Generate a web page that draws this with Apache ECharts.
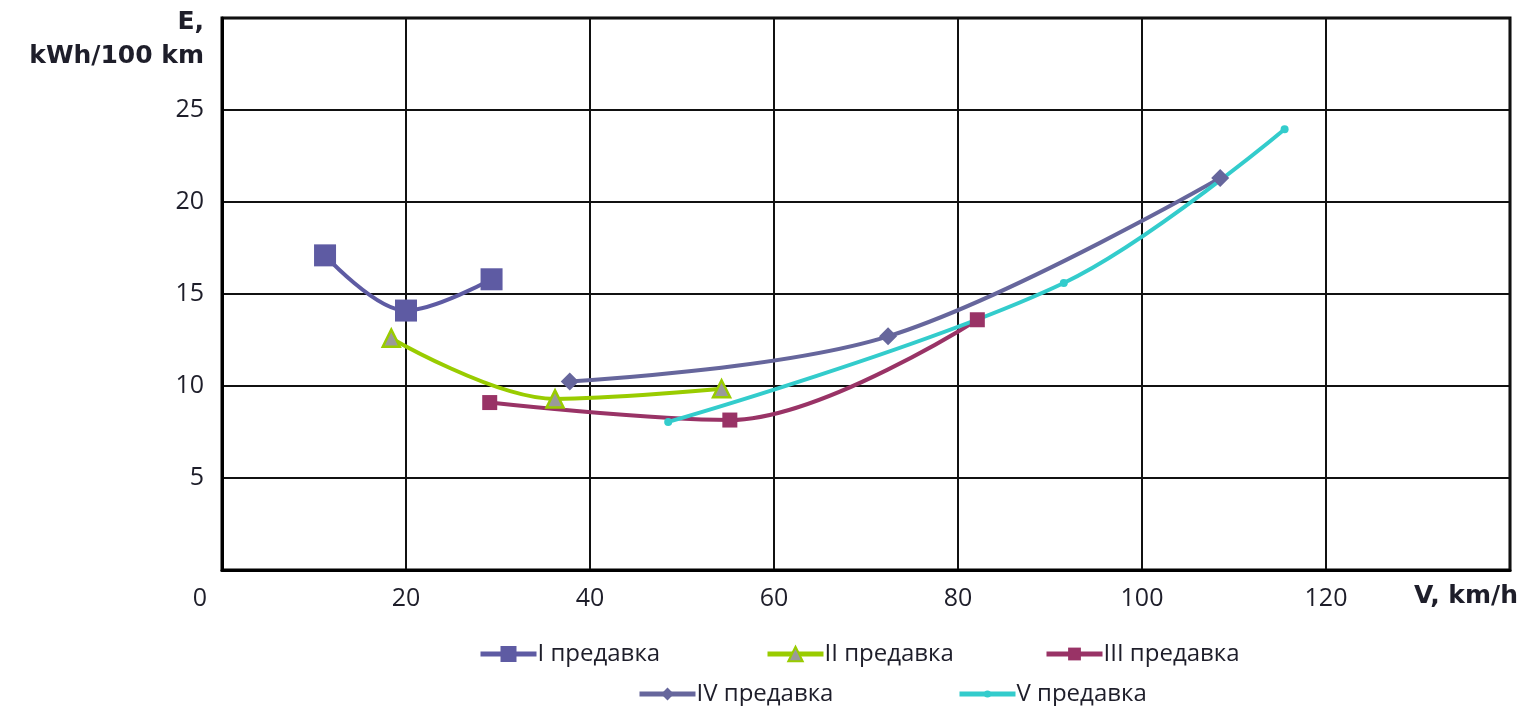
<!DOCTYPE html>
<html>
<head>
<meta charset="utf-8">
<title>Energy consumption by gear</title>
<script src="https://cdn.jsdelivr.net/npm/echarts@6/dist/echarts.min.js"></script>
<style>
  html, body { margin: 0; padding: 0; background: #fff; }
  #chart { width: 1539px; height: 706px; }
</style>
</head>
<body>
<div id="chart"></div>
<script>
// Speed V (km/h) vs. energy consumption E (kWh/100 km), one curve per gear
const gearNames = ['I предавка', 'II предавка', 'III предавка', 'IV предавка', 'V предавка'];
const gear1 = [[11.2, 17.1], [20.0, 14.1], [29.3, 15.8]];
const gear2 = [[18.4, 12.6], [36.2, 9.3], [54.3, 9.85]];
const gear3 = [[29.1, 9.1], [55.2, 8.15], [82.1, 13.6]];
const gear4 = [[37.8, 10.25], [72.4, 12.7], [108.5, 21.3]];
const gear5 = [[48.5, 8.05], [91.5, 15.6], [115.5, 23.95]];
const xTicks = [0, 20, 40, 60, 80, 100, 120];
const yTicks = [5, 10, 15, 20, 25];

const FONT = '"Open Sans", "DejaVu Sans", sans-serif';
const BOLD_FONT = '"DejaVu Sans", "Open Sans", sans-serif';
const TXT = '#1e1e2a';

const chart = echarts.init(document.getElementById('chart'), null, { renderer: 'canvas' });

function lineSeries(name, data, color, symbol, size, extra) {
  return Object.assign({
    name: name,
    type: 'line',
    data: data,
    smooth: 0.35,
    symbol: symbol,
    symbolSize: size,
    showAllSymbol: true,
    lineStyle: { color: color, width: 4 },
    itemStyle: { color: color },
    emphasis: { disabled: true },
    z: 3
  }, extra || {});
}

function legendAt(name, left, top, markerSize) {
  return {
    data: [name],
    left: left,
    top: top,
    itemWidth: 56,
    itemHeight: markerSize,
    itemGap: 6,
    selectedMode: false,
    lineStyle: { width: 5 },
    textStyle: { fontFamily: FONT, fontSize: 24, color: TXT, padding: [0, 0, 0, -4] }
  };
}

const option = {
  animation: false,
  backgroundColor: '#fff',
  grid: {
    left: 222, right: 29, top: 18, bottom: 136,
    show: true, borderColor: '#000', borderWidth: 3, backgroundColor: 'transparent'
  },
  xAxis: {
    type: 'value', min: 0, max: 140, interval: 20,
    axisLine: { show: true, lineStyle: { color: '#000', width: 3 } },
    axisTick: { show: false },
    splitLine: { show: true, lineStyle: { color: '#111', width: 2 } },
    axisLabel: {
      margin: 16,
      color: TXT, fontFamily: FONT, fontSize: 25,
      showMaxLabel: false,
      formatter: function (v) {
        if (!xTicks.includes(v)) return '';
        return v === 0 ? '{z|0}' : String(v);
      },
      rich: { z: { fontFamily: FONT, fontSize: 25, color: TXT, padding: [0, 44, 0, 0] } }
    }
  },
  yAxis: {
    type: 'value', min: 0, max: 30, interval: 5,
    axisLine: { show: true, lineStyle: { color: '#000', width: 3 } },
    axisTick: { show: false },
    splitLine: { show: true, lineStyle: { color: '#111', width: 2 } },
    axisLabel: {
      margin: 18,
      color: TXT, fontFamily: FONT, fontSize: 25,
      formatter: function (v) { return yTicks.includes(v) ? String(v) : ''; }
    }
  },
  legend: [
    legendAt(gearNames[0], 473, 637, 20),
    legendAt(gearNames[1], 760, 637, 18),
    legendAt(gearNames[2], 1039, 637, 16),
    legendAt(gearNames[3], 632, 677, 16),
    legendAt(gearNames[4], 952, 677, 9)
  ],
  graphic: [
    { type: 'text', right: 1539 - 204, top: 10,
      style: { text: 'E,', fontFamily: BOLD_FONT, fontSize: 25, fontWeight: 'bold', fill: TXT } },
    { type: 'text', right: 1539 - 204, top: 44,
      style: { text: 'kWh/100 km', fontFamily: BOLD_FONT, fontSize: 25, fontWeight: 'bold', fill: TXT } },
    { type: 'text', left: 1414, top: 584,
      style: { text: 'V, km/h', fontFamily: BOLD_FONT, fontSize: 25, fontWeight: 'bold', fill: TXT } }
  ],
  series: [
    lineSeries(gearNames[0], gear1, '#5e5ba3', 'rect', 22),
    lineSeries(gearNames[1], gear2, '#99cc00', 'triangle', 17, {
      itemStyle: { color: '#9a9a9a', borderColor: '#99cc00', borderWidth: 2.5 }
    }),
    lineSeries(gearNames[2], gear3, '#993366', 'rect', 15),
    lineSeries(gearNames[3], gear4, '#66669c', 'diamond', 18),
    lineSeries(gearNames[4], gear5, '#33cccc', 'circle', 8)
  ]
};

chart.setOption(option);
</script>
</body>
</html>
